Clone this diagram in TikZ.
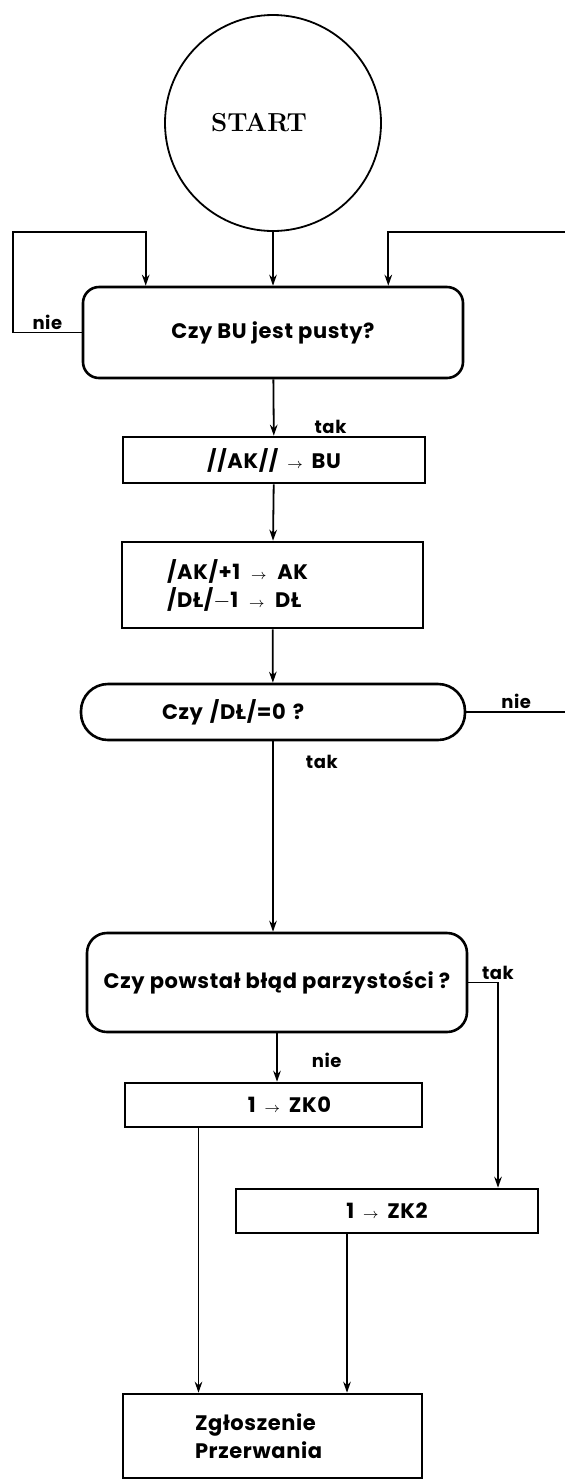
\documentclass[tikz,border=0pt]{standalone}
\usepackage{fontspec}
\newfontfamily\flowsans[LetterSpace=3]{Poppins}
\usetikzlibrary{arrows.meta,calc}
\newcommand{\flowto}{\,$\scriptstyle\rightarrow$\,}

\begin{document}
\begin{tikzpicture}[x=0.5pt,y=-0.5pt,>={Stealth[length=5.5pt,width=3.8pt]},
  font=\flowsans\bfseries\fontsize{10.5}{14}\selectfont,
  box/.style={draw,line width=1.3pt,inner sep=0pt,align=center},
  flow/.style={->,line width=0.9pt},
  lbl/.style={font=\flowsans\bfseries\fontsize{9}{10}\selectfont,inner sep=1pt}]
  \useasboundingbox (0,0) rectangle (565,1479);
  \node[draw,circle,line width=0.9pt,minimum size=108pt,
    font=\rmfamily\bfseries\fontsize{13}{15}\selectfont] (start) at (273,123) {START\hspace*{14pt}};
  \node[box,rounded corners=8pt,minimum width=190pt,minimum height=45.5pt] (pusty) at (273,332.5) {Czy BU jest pusty?};
  \node[box,minimum width=151pt,minimum height=23pt] (bu) at (274,460) {//AK// \flowto{} BU};
  \node[box,align=left,text width=105.5pt,inner xsep=22.5pt,minimum width=150.5pt,minimum height=43pt] (akdl) at (272.5,585)
    {/AK/+1 \flowto{} AK\\/DŁ/$-$1 \flowto{} DŁ};
  \node[box,rounded corners=13.5pt,align=left,text width=111pt,inner xsep=40.5pt,minimum width=192pt,minimum height=28pt] (dlzero) at (273,712) {Czy /DŁ/=0 ?};
  \node[box,rounded corners=10pt,minimum width=190pt,minimum height=49.5pt] (parz) at (277,982.5) {Czy powstał błąd parzystości ?};
  \node[box,minimum width=148.5pt,minimum height=22pt] (zk0) at (273.5,1105) {\hspace*{16pt}1 \flowto{} ZK0};
  \node[box,minimum width=151pt,minimum height=22pt] (zk2) at (387,1211) {1 \flowto{} ZK2};
  \node[box,align=left,text width=77.5pt,inner xsep=36pt,minimum width=149.5pt,minimum height=42pt] (zgl) at (272.5,1436) {Zgłoszenie\\Przerwania};

  % petle powrotne
  \coordinate (nieL) at (13,232);
  \coordinate (nieR) at (566,232);
  \draw[flow] (start) -- (pusty);
  \draw[flow] (pusty.west) -- node[lbl,above]{nie} (pusty.west -| nieL) -- (nieL) -| ($(pusty.north west)+(64,0)$);
  \draw[flow] (dlzero.east) -- node[lbl,above]{nie} (dlzero.east -| nieR) -- (nieR) -| ($(pusty.north east)+(-76,0)$);

  \draw[flow] (pusty) -- node[lbl,pos=0.85,right=19pt]{tak} (bu);
  \draw[flow] (bu) -- (akdl);
  \draw[flow] (akdl) -- (dlzero);
  \draw[flow] (dlzero.south) -- node[lbl,pos=0.11,right=15pt]{tak} (dlzero.south |- parz.north);
  \draw[flow] (parz.east) -| node[lbl,pos=0.5,above]{tak} ($(zk2.north)+(111,0)$);
  \draw[flow] (parz.south) -- node[lbl,pos=0.55,right=16pt]{nie} (parz.south |- zk0.north);

  \coordinate (z0out) at ($(zk0.south)+(-75,0)$);
  \coordinate (z2out) at ($(zk2.south)+(-40,0)$);
  \draw[flow] (z0out) -- (z0out |- zgl.north);
  \draw[flow] (z2out) -- (z2out |- zgl.north);
\end{tikzpicture}
\end{document}
